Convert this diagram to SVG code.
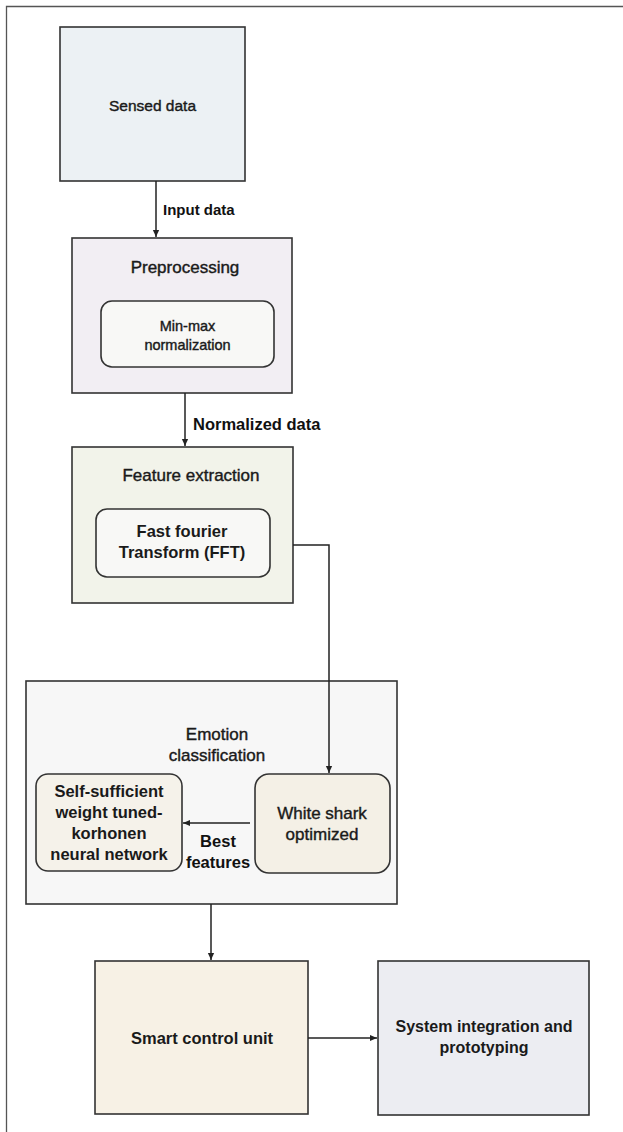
<svg xmlns="http://www.w3.org/2000/svg" width="623" height="1132" viewBox="0 0 623 1132">
<defs>
<style>
.box{stroke:#333;stroke-width:1.6}
.inner{fill:#f8f8f6;stroke:#333;stroke-width:1.6}
.t{font-family:"Liberation Sans",Arial,sans-serif;fill:#1a1a1a;text-anchor:middle}
.r{font-weight:normal;stroke:#1a1a1a;stroke-width:0.4}
.b{font-weight:bold}
.lbl{font-family:"Liberation Sans",Arial,sans-serif;fill:#111;font-weight:bold}
.edge{fill:none;stroke:#222;stroke-width:1.5}
</style>
<marker id="ah" viewBox="0 0 10 10" refX="9" refY="5" markerWidth="8" markerHeight="8" orient="auto" markerUnits="userSpaceOnUse">
<path d="M0,1 L9,5 L0,9 z" fill="#222"/>
</marker>
</defs>
<rect width="623" height="1132" fill="#fff"/>
<g id="frame">
<path d="M6.5,1132 V6.5 H623" fill="none" stroke="#555" stroke-width="1.3"/>
</g>
<g id="sensed">
<rect class="box" x="60" y="27" width="185" height="154" fill="#ecf1f4"/>
<text class="t r" x="152.5" y="111" font-size="15.5">Sensed data</text>
</g>
<g id="preprocessing">
<rect class="box" x="72" y="238" width="220" height="155" fill="#f2eef3"/>
<text class="t r" x="185" y="273" font-size="17">Preprocessing</text>
<rect class="inner" x="101" y="301" width="173" height="66" rx="11"/>
<text class="t r" x="187.5" y="331" font-size="14.5">Min-max</text>
<text class="t r" x="187.5" y="350" font-size="14.5">normalization</text>
</g>
<g id="feature">
<rect class="box" x="72" y="447" width="221" height="156" fill="#f2f3ea"/>
<text class="t r" x="191" y="481" font-size="17">Feature extraction</text>
<rect class="inner" x="96" y="509" width="174" height="68" rx="11"/>
<text class="t b" x="182" y="537" font-size="16.5">Fast fourier</text>
<text class="t b" x="182" y="558" font-size="16.5">Transform (FFT)</text>
</g>
<g id="emotion">
<rect class="box" x="26" y="681" width="371" height="223" fill="#f7f7f7"/>
<text class="t r" x="217" y="740" font-size="17">Emotion</text>
<text class="t r" x="217" y="761" font-size="17">classification</text>
</g>
<g id="sskn">
<rect class="box" x="36" y="774" width="146" height="97" rx="12" fill="#f5f2ea"/>
<text class="t b" x="109" y="797" font-size="16.5">Self-sufficient</text>
<text class="t b" x="109" y="818" font-size="16.5">weight tuned-</text>
<text class="t b" x="109" y="839" font-size="16.5">korhonen</text>
<text class="t b" x="109" y="860" font-size="16.5">neural network</text>
</g>
<g id="whiteshark">
<rect class="box" x="255" y="774" width="135" height="99" rx="14" fill="#f4f0e6"/>
<text class="t r" x="322" y="819" font-size="17">White shark</text>
<text class="t r" x="322" y="840" font-size="17">optimized</text>
</g>
<g id="smart">
<rect class="box" x="95" y="961" width="213" height="153" fill="#f7f1e5"/>
<text class="t b" x="202" y="1044" font-size="16.5">Smart control unit</text>
</g>
<g id="system">
<rect class="box" x="378" y="961" width="211" height="154" fill="#ecedf2"/>
<text class="t b" x="484" y="1032" font-size="16">System integration and</text>
<text class="t b" x="484" y="1053" font-size="16">prototyping</text>
</g>
<g id="connectors">
<path class="edge" d="M156,181 V237" marker-end="url(#ah)"/>
<text class="lbl" x="163" y="215" font-size="15">Input data</text>
<path class="edge" d="M185,393 V446" marker-end="url(#ah)"/>
<text class="lbl" x="193" y="430" font-size="16.5">Normalized data</text>
<path class="edge" d="M293,545 H329 V773" marker-end="url(#ah)"/>
<path class="edge" d="M250,823 H183" marker-end="url(#ah)"/>
<text class="lbl" x="218" y="847" font-size="16.5" text-anchor="middle">Best</text>
<text class="lbl" x="218" y="868" font-size="16.5" text-anchor="middle">features</text>
<path class="edge" d="M211,904 V960" marker-end="url(#ah)"/>
<path class="edge" d="M308,1038 H377" marker-end="url(#ah)"/>
</g>
</svg>
